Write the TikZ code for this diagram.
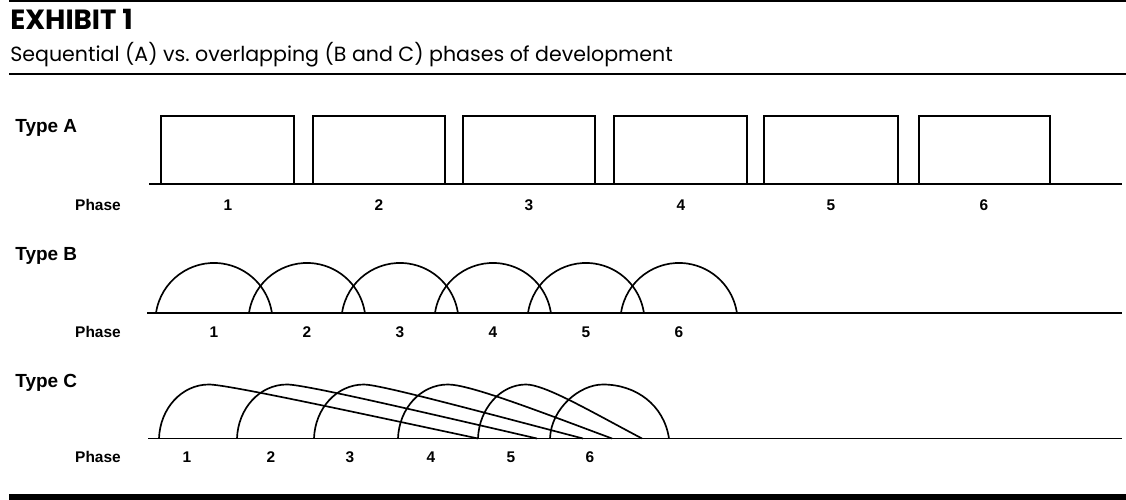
\documentclass[tikz,border=0pt]{standalone}
\usepackage{fontspec}
\setmainfont{Liberation Sans}
\newfontfamily\headfont{Poppins}
\usetikzlibrary{calc}

\begin{document}
\begin{tikzpicture}[
                x=0.02cm, y=0.02cm,
                rule/.style={line width=0.9pt},
                chart/.style={line width=0.95pt, line join=miter},
                title/.style={anchor=base west, inner sep=0pt, font=\headfont\bfseries\fontsize{15.8}{18}\selectfont},
                subtitle/.style={anchor=base west, inner sep=0pt, font=\headfont\fontsize{11.7}{13}\selectfont},
                typelbl/.style={anchor=base west, inner sep=0pt, font=\bfseries\fontsize{10.8}{12}\selectfont},
                phaselbl/.style={anchor=base, inner sep=0pt, font=\bfseries\fontsize{8.8}{10}\selectfont},
            ]
            \useasboundingbox (0,0) rectangle (1126,500);

            % header
            \draw[rule] (9,499) -- (1126,499);
            \node[title] (exhibit) at (10,470) {EXHIBIT 1};
            \node[subtitle] (caption) at (10,438) {Sequential (A) vs.\ overlapping (B and C) phases of development};
            \draw[line width=1.4pt] (9,426) -- (1126,426);
            \fill (9,0) rectangle (1126,6);

            % Type A
            \node[typelbl] (typeA) at (15,367) {Type A};
            \draw[chart] (149,316) -- (1122,316);
            \draw[chart] (161,316) |- (294,384) -- (294,316);
            \draw[chart] (313,316) |- (445,384) -- (445,316);
            \draw[chart] (463,316) |- (595,384) -- (595,316);
            \draw[chart] (614,316) |- (747,384) -- (747,316);
            \draw[chart] (764,316) |- (898,384) -- (898,316);
            \draw[chart] (919,316) |- (1050,384) -- (1050,316);
            \node[phaselbl] (phaseA) at (98,289) {Phase};
            \node[phaselbl] (a1) at (228,289) {1};
            \node[phaselbl] (a2) at (379,289) {2};
            \node[phaselbl] (a3) at (529,289) {3};
            \node[phaselbl] (a4) at (681,289) {4};
            \node[phaselbl] (a5) at (831,289) {5};
            \node[phaselbl] (a6) at (984,289) {6};

            % Type B
            \node[typelbl] (typeB) at (15,239) {Type B};
            \draw[chart] (147,187) -- (1122,187);
            \draw[chart] (156,187) arc[start angle=171.6, end angle=8.4, radius=58.6];
            \draw[chart] (249,187) arc[start angle=171.6, end angle=8.4, radius=58.6];
            \draw[chart] (342,187) arc[start angle=171.6, end angle=8.4, radius=58.6];
            \draw[chart] (435,187) arc[start angle=171.6, end angle=8.4, radius=58.6];
            \draw[chart] (528,187) arc[start angle=171.6, end angle=8.4, radius=58.6];
            \draw[chart] (621,187) arc[start angle=171.6, end angle=8.4, radius=58.6];
            \node[phaselbl] (phaseB) at (98,162) {Phase};
            \node[phaselbl] (b1) at (214,162) {1};
            \node[phaselbl] (b2) at (307,162) {2};
            \node[phaselbl] (b3) at (400,162) {3};
            \node[phaselbl] (b4) at (493,162) {4};
            \node[phaselbl] (b5) at (586,162) {5};
            \node[phaselbl] (b6) at (679,162) {6};

            % Type C
            \node[typelbl] (typeC) at (15,112) {Type C};
            \draw[chart] (148,61.5) -- (1122,61.5);
            \draw[chart] (159,61.5) .. controls (160,91.3) and (181.4,115.5) .. (209,115.5) .. controls (227,115.5) and (351.5,88.5) .. (478,61.5);
            \draw[chart] (237,61.5) .. controls (238,91.3) and (259.4,115.5) .. (287,115.5) .. controls (305,115.5) and (420,88.5) .. (537,61.5);
            \draw[chart] (314,61.5) .. controls (315,91.3) and (336.4,115.5) .. (364,115.5) .. controls (380,115.5) and (479.5,88.5) .. (583,61.5);
            \draw[chart] (398,61.5) .. controls (399,91.3) and (420.4,115.5) .. (448,115.5) .. controls (470,115.5) and (539.5,88.5) .. (612,61.5);
            \draw[chart] (478,61.5) .. controls (479,91.3) and (500.4,115.5) .. (526,115.5) .. controls (545,115.5) and (590.8,88.5) .. (642,61.5);
            \draw[chart] (550,61.5) .. controls (551,91.3) and (579.3,115.5) .. (603,115.5) .. controls (636,115.5) and (664,95) .. (669,61.5);
            \node[phaselbl] (phaseC) at (98,37) {Phase};
            \node[phaselbl] (c1) at (187,37) {1};
            \node[phaselbl] (c2) at (271,37) {2};
            \node[phaselbl] (c3) at (350,37) {3};
            \node[phaselbl] (c4) at (431,37) {4};
            \node[phaselbl] (c5) at (511,37) {5};
            \node[phaselbl] (c6) at (590,37) {6};
        \end{tikzpicture}
\end{document}
